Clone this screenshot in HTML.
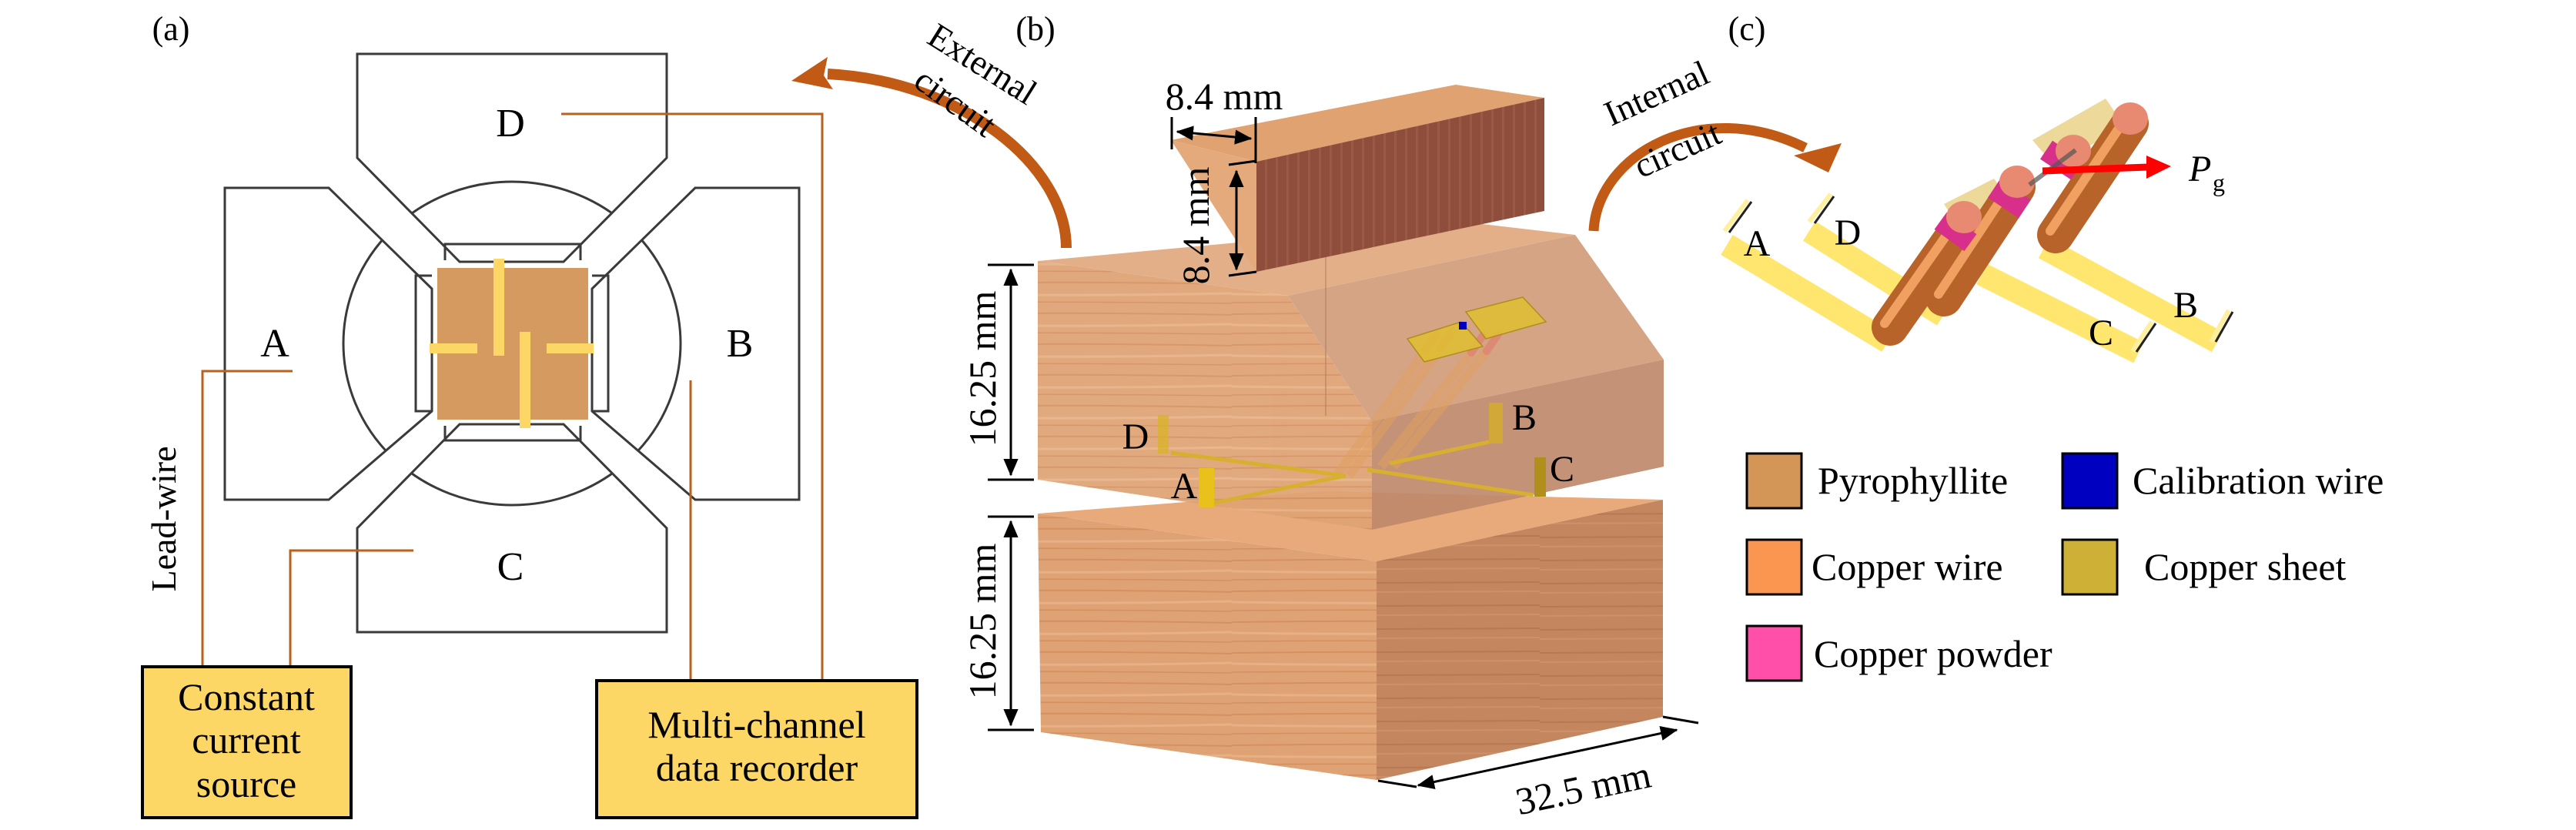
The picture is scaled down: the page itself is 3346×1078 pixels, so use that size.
<!DOCTYPE html>
<html><head><meta charset="utf-8"><style>
html,body{margin:0;padding:0;background:#fff;}
text{font-family:"Liberation Serif","DejaVu Serif",serif;}
</style></head><body>
<svg width="3346" height="1073" viewBox="0 0 3346 1073" xmlns="http://www.w3.org/2000/svg" font-family="Liberation Serif, serif">
<defs>
<marker id="ah" markerWidth="8" markerHeight="8" refX="7" refY="4" orient="auto-start-reverse" markerUnits="strokeWidth"><path d="M0,0.8 L7.5,4 L0,7.2 Z" fill="#000"/></marker>
<pattern id="woodH" width="400" height="40" patternUnits="userSpaceOnUse">
<rect width="400" height="40" fill="#dfa274"/>
<path d="M0,8 Q200,5 400,9" stroke="#cf8a58" stroke-width="2" fill="none" opacity=".7"/>
<path d="M0,22 Q200,25 400,21" stroke="#ebb88c" stroke-width="3" fill="none" opacity=".7"/>
<path d="M0,33 Q200,31 400,34" stroke="#c98352" stroke-width="1.5" fill="none" opacity=".6"/>
</pattern>
<pattern id="woodR" width="400" height="30" patternUnits="userSpaceOnUse">
<rect width="400" height="30" fill="#c4865e"/>
<path d="M0,8 L400,6" stroke="#b37350" stroke-width="2" fill="none" opacity=".7"/>
<path d="M0,20 L400,18" stroke="#d09470" stroke-width="2" fill="none" opacity=".7"/>
</pattern>
<pattern id="woodV" width="14" height="400" patternUnits="userSpaceOnUse">
<rect width="14" height="400" fill="#8f4e3c"/>
<rect x="5" width="3" height="400" fill="#9a5845"/>
</pattern>
<clipPath id="boxes">
<polygon points="464,70 866,70 866,205 732,340 597,340 464,205"/>
<polygon points="464,821 866,821 866,686 732,551 597,551 464,686"/>
<polygon points="292,244 427,244 561,375 561,534 427,649 292,649"/>
<polygon points="1038,244 903,244 769,375 769,534 903,649 1038,649"/>
</clipPath>
</defs>

<!-- ===== (a) ===== -->
<text x="222" y="52" font-size="44" text-anchor="middle">(a)</text>
<ellipse cx="665" cy="446" rx="219" ry="210" fill="none" stroke="#3a3a3a" stroke-width="3" clip-path="url(#boxes)"/>
<g fill="none" stroke="#3a3a3a" stroke-width="3">
<polygon points="464,70 866,70 866,205 732,340 597,340 464,205"/>
<polygon points="464,821 866,821 866,686 732,551 597,551 464,686"/>
<polygon points="292,244 427,244 561,375 561,534 427,649 292,649"/>
<polygon points="1038,244 903,244 769,375 769,534 903,649 1038,649"/>
<polyline points="578,338 578,317 754,317 754,338"/>
<polyline points="578,553 578,572 754,572 754,553"/>
<polyline points="561,358 540,358 540,534 561,534"/>
<polyline points="769,358 790,358 790,534 769,534"/>
</g>
<rect x="568" y="348" width="196" height="197" fill="#d49a60"/>
<g fill="#fdd766">
<rect x="641" y="336" width="14" height="126"/>
<rect x="675" y="431" width="14" height="125"/>
<rect x="558" y="446" width="62" height="13"/>
<rect x="710" y="446" width="61" height="13"/>
</g>
<g font-size="52" text-anchor="middle">
<text x="663" y="177">D</text><text x="357" y="463">A</text>
<text x="961" y="463">B</text><text x="663" y="753">C</text>
</g>
<g fill="none" stroke="#b8621e" stroke-width="3">
<polyline points="729,148 1068,148 1068,884"/>
<polyline points="380,482 263,482 263,866"/>
<polyline points="537,715 377,715 377,866"/>
<line x1="897" y1="494" x2="897" y2="884"/>
</g>
<text transform="translate(228,674) rotate(-90)" font-size="46" text-anchor="middle">Lead-wire</text>
<rect x="185" y="866" width="271" height="196" fill="#fdd766" stroke="#000" stroke-width="4"/>
<g font-size="50" text-anchor="middle">
<text x="320" y="922">Constant</text><text x="320" y="978">current</text><text x="320" y="1035">source</text>
</g>
<rect x="775" y="884" width="416" height="178" fill="#fdd766" stroke="#000" stroke-width="4"/>
<g font-size="50" text-anchor="middle">
<text x="983" y="958">Multi-channel</text><text x="983" y="1014">data recorder</text>
</g>

<!-- External circuit arrow -->
<path d="M1385,322 C1385,215 1250,105 1075,96" fill="none" stroke="#c05a14" stroke-width="14"/>
<polygon points="1028,105 1075,74 1070,98 1082,116" fill="#c05a14"/>
<text transform="translate(1268,96) rotate(32)" font-size="46" text-anchor="middle">External</text>
<text transform="translate(1232,145) rotate(36)" font-size="46" text-anchor="middle">circuit</text>

<!-- ===== (b) ===== -->
<text x="1345" y="52" font-size="44" text-anchor="middle">(b)</text>
<polygon points="1348,667 1720,638 2160,649 1788,729" fill="#e8aa7a"/>
<polygon points="1348,667 1788,729 1788,1013 1352,951" fill="url(#woodH)"/>
<polygon points="1788,729 2160,649 2160,931 1788,1013" fill="url(#woodR)"/>
<g opacity="0.93">
<polygon points="1348,339 1900,288 2046,305 1673,384" fill="#e0aa80"/>
<polygon points="1348,339 1673,384 1782,547 1782,688 1348,623" fill="url(#woodH)"/>
<polygon points="1673,384 2046,305 2161,467 1782,547" fill="#d29e7c"/>
<polygon points="1782,547 2161,467 2161,606 1782,688" fill="#c08a6c"/>
</g>
<line x1="1722" y1="300" x2="1722" y2="540" stroke="#b07a5c" stroke-width="2" opacity=".5"/>
<g stroke="#e0a060" stroke-width="12" opacity=".55" fill="none">
<line x1="1736" y1="618" x2="1851" y2="456"/><line x1="1752" y1="618" x2="1871" y2="452"/>
<line x1="1794" y1="606" x2="1911" y2="458"/><line x1="1810" y1="606" x2="1931" y2="456"/>
</g>
<g stroke="#e08070" stroke-width="10" opacity=".7" stroke-linecap="round">
<line x1="1851" y1="456" x2="1866" y2="434"/><line x1="1871" y1="452" x2="1886" y2="430"/>
<line x1="1911" y1="458" x2="1926" y2="436"/><line x1="1931" y1="456" x2="1946" y2="434"/>
</g>
<g fill="#e0c030" opacity=".85" stroke="#a88a10" stroke-width="1.5">
<polygon points="1828,440 1898,418 1926,450 1850,470"/>
<polygon points="1904,405 1978,386 2008,418 1930,440"/>
</g>
<rect x="1895" y="418" width="10" height="10" fill="#0000c0"/>
<g stroke="#d8b030" stroke-width="5" fill="none">
<polyline points="1521,588 1748,618"/>
<polyline points="1578,653 1696,628 1748,618"/>
<polyline points="1992,643 1776,610"/>
<polyline points="1934,574 1805,602"/>
</g>
<g fill="#d8b420">
<rect x="1504" y="539" width="14" height="50" opacity=".7"/>
<rect x="1557" y="608" width="20" height="51" fill="#e8c21a"/>
<rect x="1993" y="594" width="15" height="51" fill="#b0901a"/>
<rect x="1934" y="523" width="18" height="53" opacity=".7"/>
</g>
<g font-size="48" text-anchor="middle">
<text x="1475" y="583">D</text><text x="1538" y="647">A</text>
<text x="1980" y="558">B</text><text x="2029" y="625">C</text>
</g>
<polygon points="1521,182 1891,110 2006,127 1632,210" fill="#dfa270"/>
<polygon points="1521,182 1632,210 1632,353" fill="#e4aa7c"/>
<polygon points="1632,210 2006,127 2006,274 1632,353" fill="url(#woodV)"/>
<g stroke="#000" stroke-width="3" fill="none">
<line x1="1283" y1="344" x2="1343" y2="344"/><line x1="1283" y1="623" x2="1343" y2="623"/>
<line x1="1313" y1="350" x2="1313" y2="617" marker-start="url(#ah)" marker-end="url(#ah)"/>
<line x1="1283" y1="671" x2="1343" y2="671"/><line x1="1283" y1="948" x2="1343" y2="948"/>
<line x1="1313" y1="677" x2="1313" y2="942" marker-start="url(#ah)" marker-end="url(#ah)"/>
<line x1="1522" y1="152" x2="1522" y2="194"/><line x1="1631" y1="152" x2="1631" y2="212"/>
<line x1="1529" y1="171" x2="1625" y2="180" marker-start="url(#ah)" marker-end="url(#ah)"/>
<line x1="1596" y1="214" x2="1632" y2="209"/><line x1="1596" y1="358" x2="1632" y2="353"/>
<line x1="1606" y1="222" x2="1606" y2="350" marker-start="url(#ah)" marker-end="url(#ah)"/>
<line x1="1790" y1="1014" x2="1840" y2="1022"/><line x1="2160" y1="931" x2="2206" y2="939"/>
<line x1="1842" y1="1020" x2="2178" y2="948" marker-start="url(#ah)" marker-end="url(#ah)"/>
</g>
<g font-size="50" text-anchor="middle">
<text x="1590" y="142">8.4 mm</text>
<text transform="translate(1570,293) rotate(-90)">8.4 mm</text>
<text transform="translate(1293,479) rotate(-90)">16.25 mm</text>
<text transform="translate(1293,807) rotate(-90)">16.25 mm</text>
<text transform="translate(2060,1040) rotate(-12)">32.5 mm</text>
</g>

<!-- Internal circuit arrow -->
<path d="M2070,300 C2075,200 2210,125 2345,192" fill="none" stroke="#c05a14" stroke-width="13"/>
<polygon points="2375,224 2330,202 2392,186" fill="#c05a14"/>
<text transform="translate(2158,135) rotate(-24)" font-size="46" text-anchor="middle">Internal</text>
<text transform="translate(2185,208) rotate(-24)" font-size="46" text-anchor="middle">circuit</text>

<!-- ===== (c) ===== -->
<text x="2269" y="52" font-size="44" text-anchor="middle">(c)</text>
<g stroke="#ffe66e" stroke-width="30" stroke-linecap="butt">
<line x1="2243" y1="318" x2="2452" y2="444"/>
<line x1="2350" y1="300" x2="2524" y2="410"/>
<line x1="2574" y1="356" x2="2778" y2="458"/>
<line x1="2655" y1="322" x2="2880" y2="444"/>
</g>
<g stroke="#222" stroke-width="3">
<line x1="2246" y1="302" x2="2275" y2="262"/><line x1="2357" y1="290" x2="2382" y2="255"/>
<line x1="2775" y1="457" x2="2800" y2="420"/><line x1="2878" y1="444" x2="2900" y2="405"/>
</g>
<g stroke="#fff0a0" stroke-width="6">
<line x1="2240" y1="300" x2="2270" y2="260"/><line x1="2350" y1="288" x2="2378" y2="252"/>
<line x1="2770" y1="456" x2="2795" y2="418"/><line x1="2872" y1="444" x2="2895" y2="403"/>
</g>
<g fill="#e8d080" opacity=".8">
<polygon points="2525,265 2590,232 2612,262 2548,300"/>
<polygon points="2640,182 2735,128 2760,164 2668,215"/>
</g>
<g stroke-linecap="round">
<line x1="2455" y1="425" x2="2551" y2="288" stroke="#b8632a" stroke-width="48"/>
<line x1="2448" y1="420" x2="2544" y2="283" stroke="#f0a060" stroke-width="12"/>
<line x1="2525" y1="387" x2="2620" y2="243" stroke="#b8632a" stroke-width="48"/>
<line x1="2518" y1="382" x2="2613" y2="238" stroke="#f0a060" stroke-width="12"/>
<line x1="2670" y1="305" x2="2767" y2="160" stroke="#b8632a" stroke-width="48"/>
<line x1="2663" y1="300" x2="2760" y2="155" stroke="#f0a060" stroke-width="12"/>
</g>
<g stroke="#d8308a" stroke-width="48">
<line x1="2532" y1="312" x2="2548" y2="290"/>
<line x1="2602" y1="270" x2="2618" y2="246"/>
<line x1="2670" y1="220" x2="2686" y2="196"/>
</g>
<g fill="#e88a72">
<ellipse cx="2551" cy="282" rx="23" ry="21"/>
<ellipse cx="2620" cy="236" rx="23" ry="21"/>
<ellipse cx="2693" cy="196" rx="23" ry="21"/>
<ellipse cx="2767" cy="154" rx="23" ry="21"/>
</g>
<line x1="2636" y1="240" x2="2696" y2="195" stroke="#555" stroke-width="6" opacity=".7"/>
<line x1="2653" y1="222" x2="2790" y2="217" stroke="#ff0000" stroke-width="9"/>
<polygon points="2820,216 2788,202 2788,232" fill="#ff0000"/>
<text x="2843" y="235" font-size="48" font-style="italic">P</text>
<text x="2874" y="248" font-size="32">g</text>
<g font-size="48" text-anchor="middle">
<text x="2282" y="332">A</text><text x="2400" y="318">D</text>
<text x="2729" y="448">C</text><text x="2839" y="412">B</text>
</g>
<g stroke="#000" stroke-width="3">
<rect x="2269" y="589" width="71" height="71" fill="#d49656"/>
<rect x="2679" y="589" width="71" height="71" fill="#0000c0"/>
<rect x="2269" y="701" width="71" height="71" fill="#fa9650"/>
<rect x="2679" y="701" width="71" height="71" fill="#cdb035"/>
<rect x="2269" y="813" width="71" height="71" fill="#ff4fa8"/>
</g>
<g font-size="50">
<text x="2361" y="641">Pyrophyllite</text>
<text x="2770" y="641">Calibration wire</text>
<text x="2353" y="753">Copper wire</text>
<text x="2785" y="753">Copper sheet</text>
<text x="2356" y="866">Copper powder</text>
</g>
</svg>
</body></html>
